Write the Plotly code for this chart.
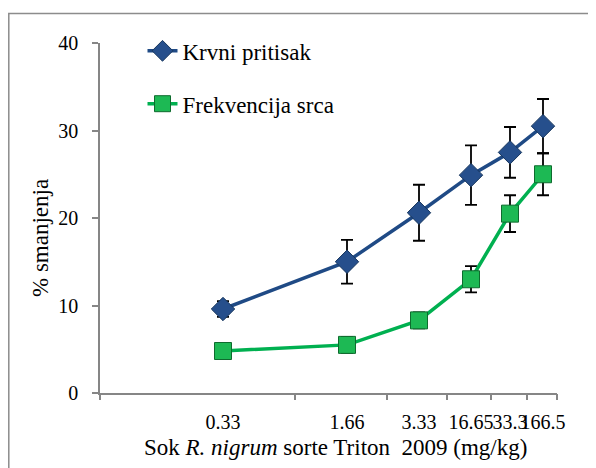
import plotly.graph_objects as go

# ---- data ----
dose_labels = ["0.33", "1.66", "3.33", "16.65", "33.3", "166.5"]
# position of each dose on the (irregular) x scale, axis units 0..457
dose_pos = [123, 247, 319, 371, 410, 443]
# category boundary tick marks on the x scale
boundary_ticks = [0, 195, 287, 347, 391, 427, 457]

krvni = [9.6, 15.0, 20.6, 24.9, 27.5, 30.5]
krvni_err = [0.9, 2.5, 3.2, 3.4, 2.9, 3.1]
frek = [4.8, 5.5, 8.3, 13.0, 20.5, 25.0]
frek_err = [0.4, 0.9, 0.9, 1.5, 2.1, 2.4]

FONT = "'Liberation Serif', 'Times New Roman', serif"
AXIS_COLOR = "#868686"

fig = go.Figure()
fig.add_trace(go.Scatter(
    x=dose_pos, y=krvni, name="Krvni pritisak", mode="lines+markers",
    line=dict(color="#1F4A85", width=3.5),
    marker=dict(symbol="diamond", size=18, color="#264F8C",
                line=dict(color="#17365D", width=1)),
    error_y=dict(type="data", array=krvni_err, color="black", thickness=1.8, width=6),
    legendgroup="a",
))
fig.add_trace(go.Scatter(
    x=dose_pos, y=frek, name="Frekvencija srca", mode="lines+markers",
    line=dict(color="#00B050", width=3.5),
    marker=dict(symbol="square", size=17, color="#1DB954",
                line=dict(color="#0E6B2E", width=1)),
    error_y=dict(type="data", array=frek_err, color="black", thickness=1.8, width=6),
    legendgroup="b",
))
# invisible trace to carry the tick-mark axis
fig.add_trace(go.Scatter(x=[boundary_ticks[0]], y=[0], xaxis="x2", mode="markers",
                         marker=dict(opacity=0), showlegend=False, hoverinfo="skip"))

# frame edges in paper coords (plot area spans 457 x 350 px, starting at page x=100, y=43..393)
fl = (8.8 - 100) / 457
fr = (600 - 100) / 457
ft = (393 - 13.5) / 350
fb = (393 - 470) / 350

fig.update_layout(
    width=596, height=468,
    margin=dict(l=92, r=47, t=35, b=83),
    paper_bgcolor="white", plot_bgcolor="white",
    font=dict(family=FONT, size=20, color="black"),
    showlegend=True,
    legend=dict(x=0.093, y=1.039, xanchor="left", yanchor="top",
                font=dict(family=FONT, size=23), bgcolor="rgba(0,0,0,0)",
                tracegroupgap=20, traceorder="grouped"),
    xaxis=dict(range=[0, 457], tickmode="array", tickvals=dose_pos, ticktext=dose_labels,
               ticks="", showline=True, linecolor=AXIS_COLOR, linewidth=1.5,
               showgrid=False, zeroline=False, ticklabelstandoff=10, tickangle=0,
               tickfont=dict(family=FONT, size=20)),
    xaxis2=dict(range=[0, 457], overlaying="x", anchor="y", side="bottom",
                tickmode="array", tickvals=boundary_ticks, showticklabels=False,
                ticks="outside", ticklen=6, tickwidth=1.5, tickcolor=AXIS_COLOR,
                showline=False, showgrid=False, zeroline=False),
    yaxis=dict(range=[0, 40], tickmode="array", tickvals=[0, 10, 20, 30, 40],
               ticks="outside", ticklen=6, tickwidth=1.5, tickcolor=AXIS_COLOR,
               showline=True, linecolor=AXIS_COLOR, linewidth=1.5,
               showgrid=False, zeroline=False, ticklabelstandoff=10,
               tickfont=dict(family=FONT, size=20)),
    annotations=[
        dict(text="Sok <i>R. nigrum</i> sorte Triton  2009 (mg/kg)", xref="paper", yref="paper",
             x=(335 - 100) / 457, y=(393 - 447) / 350, xanchor="center", yanchor="middle",
             showarrow=False, font=dict(family=FONT, size=23)),
        dict(text="% smanjenja", xref="paper", yref="paper", textangle=-90,
             x=(40 - 100) / 457, y=(393 - 238) / 350, xanchor="center", yanchor="middle",
             showarrow=False, font=dict(family=FONT, size=23)),
    ],
)
# outer chart frame: left and top edges (right/bottom run off the page)
fig.add_shape(type="path", xref="paper", yref="paper",
              path=f"M {fl},{fb} L {fl},{ft} L {fr},{ft}",
              line=dict(color="#8C8C8C", width=1.5), layer="above")

fig.write_html("out.html")
